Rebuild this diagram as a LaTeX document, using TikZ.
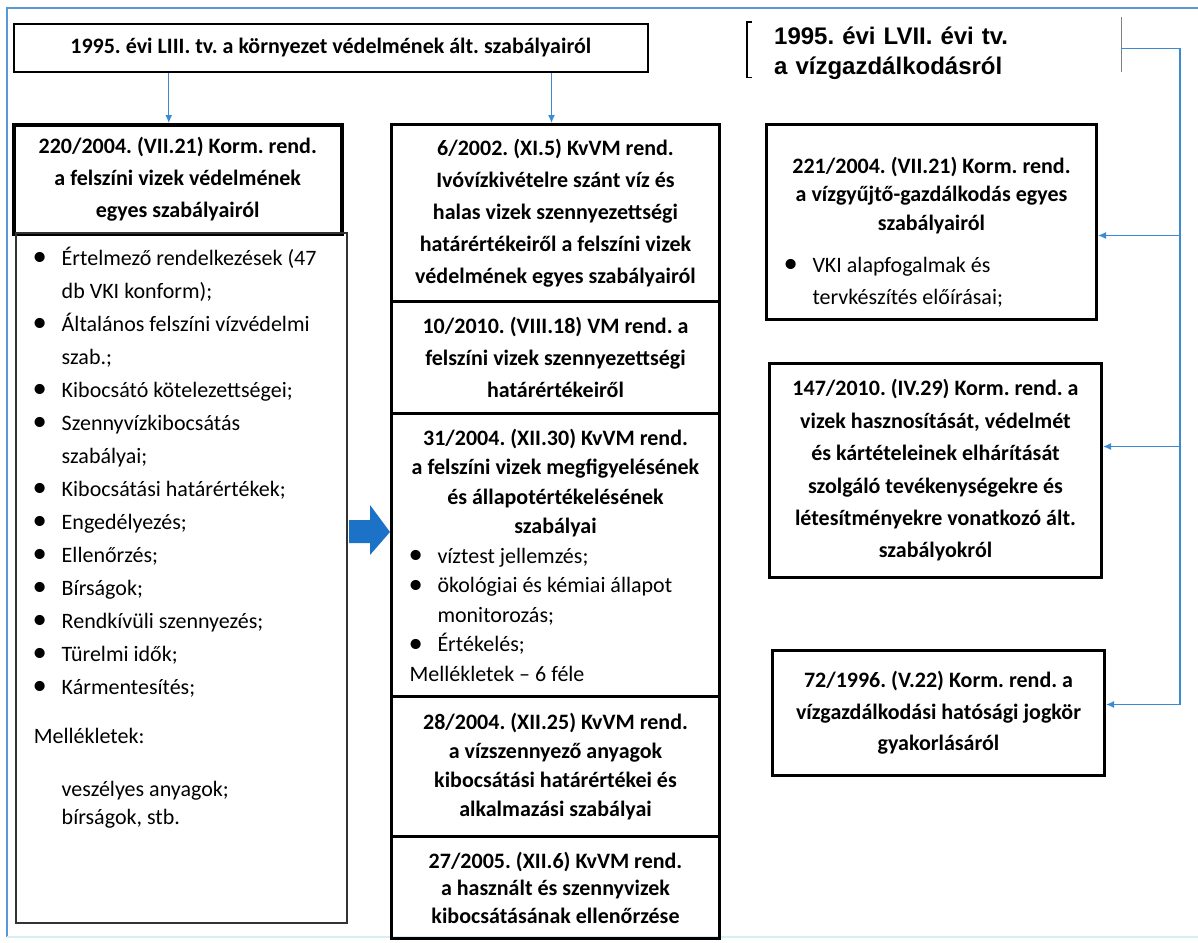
\documentclass[tikz,border=0pt]{standalone}
\usepackage{fontspec}
\setmainfont{Carlito}
\newfontfamily\arialfont{Liberation Sans}
\usepackage{xcolor}
\usetikzlibrary{calc}
\usetikzlibrary{arrows, arrows.meta}
\definecolor{linkblue}{HTML}{3A8BD4}
\definecolor{arrowblue}{HTML}{1C72C6}
\definecolor{frameblue}{HTML}{5A9AD2}
\definecolor{paleblue}{HTML}{D6EEF4}
\definecolor{boxgray}{HTML}{333333}
\frenchspacing

\newcommand{\fs}[1]{\fontsize{22}{#1}\selectfont}
\newcommand{\bitem}[1]{\noindent\makebox[46pt][l]{\hspace*{17pt}\raisebox{-0.5pt}{\scalebox{1.3}{\textbullet}}}#1\par}
\newcommand{\bcont}[1]{\noindent\hspace*{46pt}#1\par}

\tikzset{
  lawbox/.style={draw=black, line width=3pt, inner sep=0pt, anchor=north west, align=center},
  conn/.style={linkblue, line width=1.3pt, -{Latex[length=8pt,width=7pt]}},
}

\begin{document}
\begin{tikzpicture}[x=1pt, y=-1pt]
    \useasboundingbox (0,0) rectangle (1198,942);
    \draw[frameblue, line width=1.6pt] (1198,8) -- (7,8) -- (7,937);
    \draw[paleblue, line width=2pt] (7,937) -- (1198,937);
    %
    \node[lawbox, line width=1.6pt, minimum width=634pt, minimum height=48pt, font=\fs{31}\bfseries] (ltv) at (13,23) {1995. évi LIII. tv. a környezet védelmének ált. szabályairól};
    \node[anchor=north west, minimum width=374pt, minimum height=55pt, inner xsep=27pt, inner ysep=0pt, text width=320pt, align=left, font=\arialfont\bfseries\fontsize{24}{30}\selectfont] (lvii) at (747,26) {1995. évi LVII. évi tv.\\a vízgazdálkodásról};
    \draw[black, line width=1.5pt] ([shift={(5pt,4pt)}]lvii.north west) -- ([yshift=4pt]lvii.north west) -- ([yshift=4pt]lvii.south west) -- ([shift={(5pt,4pt)}]lvii.south west);
    \draw[gray, line width=1.5pt] ([yshift=9pt]lvii.north east) -- ([yshift=9pt]lvii.south east);
    %
    % left column
    \node[lawbox, line width=3.5pt, minimum width=328pt, minimum height=109pt, font=\fs{32}\bfseries] (h220) at (12,123) {220/2004. (VII.21) Korm. rend.\\a felszíni vizek védelmének\\egyes szabályairól};
    \node[lawbox, draw=boxgray, line width=1.5pt] (list220) at (15,232) {\begin{minipage}[c][690pt][t]{331pt}\fs{33}
      \vspace{14pt}
      \bitem{Értelmező rendelkezések (47}
      \bcont{db VKI konform);}
      \bitem{Általános felszíni vízvédelmi}
      \bcont{szab.;}
      \bitem{Kibocsátó kötelezettségei;}
      \bitem{Szennyvízkibocsátás}
      \bcont{szabályai;}
      \bitem{Kibocsátási határértékek;}
      \bitem{Engedélyezés;}
      \bitem{Ellenőrzés;}
      \bitem{Bírságok;}
      \bitem{Rendkívüli szennyezés;}
      \bitem{Türelmi idők;}
      \bitem{Kármentesítés;}
      \vspace{16pt}
      \noindent\hspace*{18pt}Mellékletek:\par
      \vspace{25pt}\fs{28}
      \bcont{veszélyes anyagok;}
      \bcont{bírságok, stb.}
    \end{minipage}};
    %
    % middle column
    \node[lawbox, minimum width=328pt, minimum height=177pt, font=\fs{32}\bfseries] (k6) at (390,123) {6/2002. (XI.5) KvVM rend.\\Ivóvízkivételre szánt víz és\\halas vizek szennyezettségi\\határértékeiről a felszíni vizek\\védelmének egyes szabályairól};
    \node[lawbox, minimum width=328pt, minimum height=112pt, font=\fs{32}\bfseries] (k10) at (390,300) {10/2010. (VIII.18) VM rend. a\\felszíni vizek szennyezettségi\\határértékeiről};
    \node[lawbox, minimum width=328pt, minimum height=283pt] (k31) at (390,412) {\begin{minipage}{328pt}\fs{29.5}
      {\centering\bfseries 31/2004. (XII.30) KvVM rend.\\a felszíni vizek megfigyelésének\\és állapotértékelésének\\szabályai\par}
      \bitem{víztest jellemzés;}
      \bitem{ökológiai és kémiai állapot}
      \bcont{monitorozás;}
      \bitem{Értékelés;}
      \noindent\hspace*{18pt}Mellékletek -- 6 féle\par
    \end{minipage}};
    \node[lawbox, minimum width=328pt, minimum height=140pt, font=\fs{29}\bfseries] (k28) at (390,695) {28/2004. (XII.25) KvVM rend.\\a vízszennyező anyagok\\kibocsátási határértékei és\\alkalmazási szabályai};
    \node[lawbox, minimum width=328pt, minimum height=102pt, font=\fs{27.5}\bfseries] (k27) at (390,835) {27/2005. (XII.6) KvVM rend.\\a használt és szennyvizek\\kibocsátásának ellenőrzése};
    %
    % right column
    \node[lawbox, minimum width=330pt, minimum height=195pt] (k221) at (765,123) {\begin{minipage}{330pt}\fs{28.5}
      \vspace{20pt}
      {\centering\bfseries 221/2004. (VII.21) Korm. rend.\\a vízgyűjtő-gazdálkodás egyes\\szabályairól\par}
      \vspace{10pt}\fs{32}
      \bitem{VKI alapfogalmak és}
      \bcont{tervkészítés előírásai;}
    \end{minipage}};
    \node[lawbox, minimum width=332pt, minimum height=214pt, font=\fs{32.4}\bfseries] (k147) at (768,362) {147/2010. (IV.29) Korm. rend. a\\vizek hasznosítását, védelmét\\és kártételeinek elhárítását\\szolgáló tevékenységekre és\\létesítményekre vonatkozó ált.\\szabályokról};
    \node[lawbox, minimum width=332pt, minimum height=125pt, font=\fs{31.5}\bfseries] (k72) at (771,649) {72/1996. (V.22) Korm. rend. a\\vízgazdálkodási hatósági jogkör\\gyakorlásáról};
    %
    % connectors
    \draw[conn] ([xshift=-9pt]h220.north |- ltv.south) -- ([xshift=-9pt]h220.north);
    \draw[conn] ([xshift=-4pt]k6.north |- ltv.south) -- ([xshift=-4pt]k6.north);
    %
    \coordinate (trunk) at (1180,0);
    \coordinate (out) at ([yshift=5pt]lvii.east);
    \coordinate (in221) at ([yshift=-13.5pt]k221.east);
    \coordinate (in147) at ([yshift=24pt]k147.east);
    \coordinate (in72) at ([yshift=8.5pt]k72.east);
    \draw[conn] (out) -- (out -| trunk) -- (trunk |- in72) -- (in72);
    \draw[conn] (trunk |- in221) -- (in221);
    \draw[conn] (trunk |- in147) -- (in147);
    %
    \coordinate (tip) at (k31.west |- 0,532);
    \fill[arrowblue] (tip) -- ++(-20,-27) -- ++(0,15) -- ++(-21,0) -- ++(0,23) -- ++(21,0) -- ++(0,12) -- cycle;
\end{tikzpicture}
\end{document}
